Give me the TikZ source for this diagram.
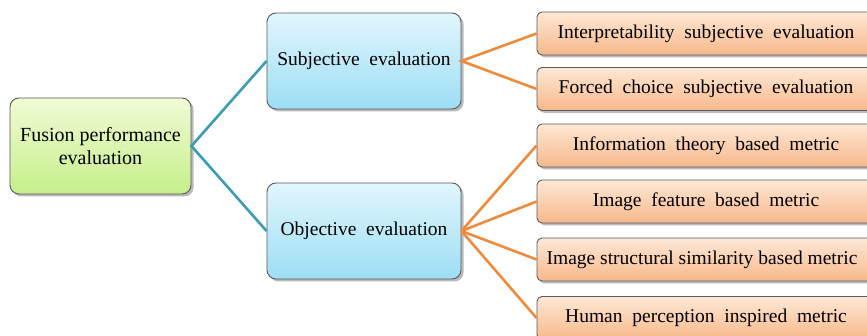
\documentclass[tikz,border=0pt]{standalone}
\usepackage{fontspec}
\setmainfont{Liberation Serif}
\usetikzlibrary{shadows}
\definecolor{bordergray}{HTML}{5A5A5A}
\definecolor{bluelink}{HTML}{3B9CB5}
\definecolor{orangelink}{HTML}{EF8B3C}
\begin{document}
\begin{tikzpicture}[x=1pt,y=-1pt,
  base/.style={draw=bordergray,line width=0.9pt,inner sep=0pt,align=center,
    font=\fontsize{19.5}{23}\selectfont,
    drop shadow={shadow xshift=2.5pt,shadow yshift=-2.5pt,opacity=0.45,fill=black!60}},
  greenbox/.style={base,rounded corners=9pt,font=\fontsize{20}{23}\selectfont,
    top color={rgb,255:red,240;green,251;blue,214},bottom color={rgb,255:red,198;green,239;blue,138}},
  bluebox/.style={base,rounded corners=9pt,
    top color={rgb,255:red,226;green,246;blue,253},bottom color={rgb,255:red,156;green,222;blue,244}},
  orangebox/.style={base,rounded corners=5pt,minimum width=338pt,minimum height=43pt,
    top color={rgb,255:red,253;green,232;blue,214},bottom color={rgb,255:red,248;green,184;blue,138}},
  bluewire/.style={draw=bluelink,line width=2.6pt},
  orangewire/.style={draw=orangelink,line width=2.6pt}]
\clip (0,0) rectangle (867,336);
\fill[white] (0,0) rectangle (867,336);
\node[greenbox,minimum width=181pt,minimum height=96pt] (fuse) at (100.5,146) {Fusion performance\\evaluation};
\node[bluebox,minimum width=194pt,minimum height=96pt] (subj) at (364,61) {Subjective\ \ evaluation};
\node[bluebox,minimum width=194pt,minimum height=96pt] (obj) at (364,231) {Objective\ \ evaluation};
\node[orangebox] (o1) at (706,33.5) {Interpretability\ \ subjective\ \ evaluation};
\node[orangebox] (o2) at (706,89) {Forced\ \ choice\ \ subjective\ \ evaluation};
\node[orangebox] (o3) at (706,145.5) {Information\ \ theory\ \ based\ \ metric};
\node[orangebox] (o4) at (706,201.5) {Image\ \ feature\ \ based\ \ metric};
\node[orangebox] (o5) at (706,259.5) {\hspace*{-8pt}Image\ structural\ similarity\ based\ metric};
\node[orangebox] (o6) at (706,318) {Human\ \ perception\ \ inspired\ \ metric};
\draw[bluewire] (subj.west) -- (fuse.east) -- (obj.west);
\draw[orangewire] (o1.west) -- (subj.east) -- (o2.west);
\foreach \t in {o3,o4,o5,o6} \draw[orangewire] (obj.east) -- (\t.west);
\end{tikzpicture}
\end{document}
